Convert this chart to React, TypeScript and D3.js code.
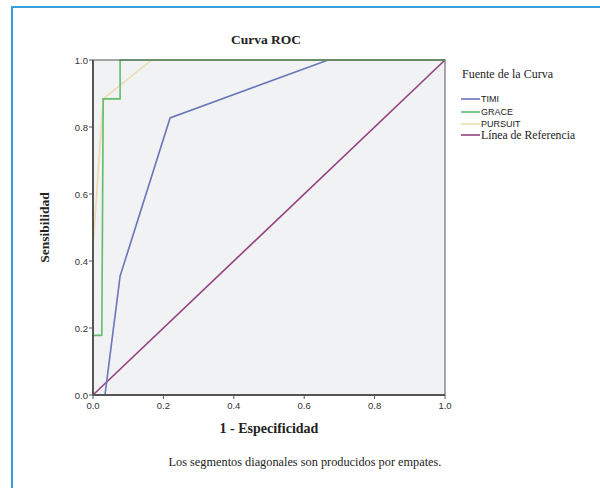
import React from "react";
import * as d3 from "d3";

const ticks = [0, 0.2, 0.4, 0.6, 0.8, 1.0];
const timiX = [0, 0.034, 0.077, 0.219, 0.668, 1];
const timiY = [0, 0, 0.355, 0.827, 1, 1];
const graceX = [0, 0, 0.025, 0.029, 0.077, 0.077, 1];
const graceY = [0, 0.178, 0.178, 0.884, 0.884, 1, 1];
const pursuitX = [0, 0, 0.029, 0.167, 1];
const pursuitY = [0, 0.44, 0.884, 1, 1];
const refX = [0, 1];
const refY = [0, 1];

const series = [
  { name: "TIMI", xs: timiX, ys: timiY, color: "#6a76b8", serif: false },
  { name: "GRACE", xs: graceX, ys: graceY, color: "#62bd6a", serif: false },
  { name: "PURSUIT", xs: pursuitX, ys: pursuitY, color: "#eadcae", serif: false },
  { name: "Línea de Referencia", xs: refX, ys: refY, color: "#94407f", serif: true },
];

export default function App() {
  const x = d3.scaleLinear().domain([0, 1]).range([93, 445]);
  const y = d3.scaleLinear().domain([0, 1]).range([395, 60]);
  const line = d3
    .line<[number, number]>()
    .x((d) => x(d[0]))
    .y((d) => y(d[1]));
  const serif = "'Liberation Serif', 'Times New Roman', serif";
  const sans = "'Liberation Sans', Arial, sans-serif";
  const drawOrder = [3, 0, 2, 1];
  return (
    <svg width={600} height={488} style={{ position: "absolute", left: 0, top: 0 }}>
      <rect x={0} y={0} width={600} height={488} fill="#ffffff" />
      <line x1={11} y1={7} x2={600} y2={7} stroke="#3a9fd8" strokeWidth={2} />
      <line x1={12} y1={6} x2={12} y2={488} stroke="#3a9fd8" strokeWidth={2} />
      <text x={266} y={44} textAnchor="middle" fontFamily={serif} fontWeight="bold" fontSize={13.5} fill="#222">
        Curva ROC
      </text>
      <rect x={x(0)} y={y(1)} width={x(1) - x(0)} height={y(0) - y(1)} fill="#f0f2f4" />
      {drawOrder.map((i) => {
        const s = series[i];
        const pts = s.xs.map((v, k) => [v, s.ys[k]] as [number, number]);
        return <path key={s.name} d={line(pts) || ""} fill="none" stroke={s.color} strokeWidth={1.6} />;
      })}
      <rect x={x(0)} y={y(1)} width={x(1) - x(0)} height={y(0) - y(1)} fill="none" stroke="#555" strokeWidth={1} />
      <line x1={x(0)} y1={y(1)} x2={x(0)} y2={y(0)} stroke="#555" strokeWidth={2} />
      <line x1={x(0)} y1={y(0)} x2={x(1)} y2={y(0)} stroke="#555" strokeWidth={2} />
      {ticks.map((t) => (
        <g key={"x" + t}>
          <line x1={x(t)} y1={y(0)} x2={x(t)} y2={y(0) + 4} stroke="#555" />
          <text x={x(t)} y={y(0) + 14} textAnchor="middle" fontFamily={sans} fontSize={9.5} fill="#333">
            {t.toFixed(1)}
          </text>
        </g>
      ))}
      {ticks.map((t) => (
        <g key={"y" + t}>
          <line x1={x(0) - 4} y1={y(t)} x2={x(0)} y2={y(t)} stroke="#555" />
          <text x={x(0) - 5} y={y(t) + 3.5} textAnchor="end" fontFamily={sans} fontSize={9.5} fill="#333">
            {t.toFixed(1)}
          </text>
        </g>
      ))}
      <text x={269} y={433} textAnchor="middle" fontFamily={serif} fontWeight="bold" fontSize={14} fill="#222">
        1 - Especificidad
      </text>
      <text
        transform={`translate(49, ${(y(0) + y(1)) / 2}) rotate(-90)`}
        textAnchor="middle"
        fontFamily={serif}
        fontWeight="bold"
        fontSize={13.5}
        fill="#222"
      >
        Sensibilidad
      </text>
      <text x={305} y={466} textAnchor="middle" fontFamily={serif} fontSize={12.3} fill="#222">
        Los segmentos diagonales son producidos por empates.
      </text>
      <text x={462} y={78} fontFamily={serif} fontSize={12} fill="#222">
        Fuente de la Curva
      </text>
      {series.map((s, i) => {
        const ly = [99, 112, 124, 135][i];
        return (
          <g key={"leg" + s.name}>
            <line x1={461} y1={ly} x2={480} y2={ly} stroke={s.color} strokeWidth={1.6} />
            <text
              x={481}
              y={ly + (s.serif ? 3.5 : 3.2)}
              fontFamily={s.serif ? serif : sans}
              fontSize={s.serif ? 11.7 : 9}
              fill="#222"
            >
              {s.name}
            </text>
          </g>
        );
      })}
    </svg>
  );
}
